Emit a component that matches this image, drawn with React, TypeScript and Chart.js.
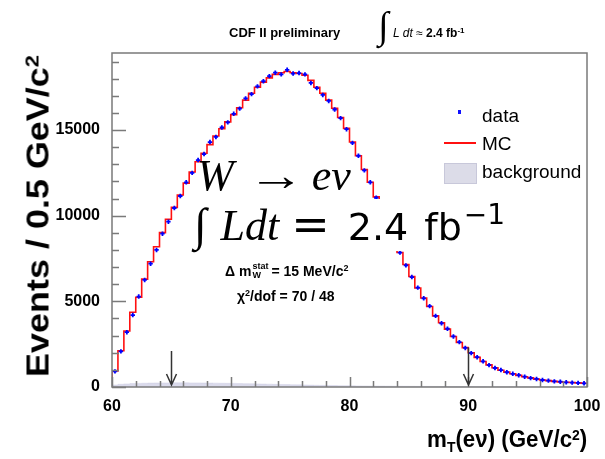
import React, { useEffect, useRef } from "react";
import { Chart, registerables } from "chart.js";

Chart.register(...registerables);

// ---- data (events per 0.5 GeV bin, 60..100 GeV) ----
const binStart = 60;
const binWidth = 0.5;

const mcValues = [
  930, 2120, 3270, 4360, 5240, 6300, 7310, 8190, 9010, 9790,
  10490, 11210, 11900, 12550, 13150, 13650, 14150, 14650, 15080, 15480,
  15900, 16300, 16750, 17150, 17500, 17800, 18050, 18250, 18350, 18420,
  18350, 18300, 18200, 17900, 17500, 17150, 16750, 16270, 15730, 15100,
  14300, 13500, 12700, 11950, 11100, 10250, 9450, 8650, 7850, 7150,
  6450, 5780, 5200, 4700, 4150, 3750, 3380, 2950, 2600, 2300,
  2000, 1730, 1490, 1290, 1120, 980, 870, 770, 680, 600,
  530, 460, 410, 370, 330, 300, 280, 260, 240, 220,
];

const dataValues = [
  910, 2080, 3200, 4200, 5280, 6250, 7200, 8000, 8950, 9650,
  10450, 11150, 11950, 12500, 13250, 13600, 14300, 14600, 15150, 15450,
  15950, 16250, 16850, 17100, 17550, 17850, 18150, 18350, 18250, 18520,
  18300, 18330, 18250, 17750, 17450, 17050, 16700, 16200, 15700, 15050,
  14250, 13500, 12650, 11950, 11050, 10300, 9400, 8700, 7850, 7100,
  6420, 5800, 5180, 4720, 4150, 3720, 3400, 2950, 2620, 2280,
  1980, 1740, 1500, 1280, 1110, 990, 860, 770, 690, 600,
  520, 470, 410, 370, 330, 310, 275, 255, 240, 215,
];

const backgroundValues = [
  120, 160, 180, 200, 210, 220, 230, 235, 240, 240,
  245, 245, 245, 240, 240, 235, 230, 225, 220, 215,
  210, 200, 195, 190, 180, 170, 165, 155, 150, 140,
  130, 125, 115, 110, 100, 95, 90, 85, 80, 75,
  70, 65, 60, 58, 55, 52, 50, 48, 45, 42,
  40, 38, 36, 34, 32, 30, 28, 27, 26, 25,
  24, 23, 22, 21, 20, 19, 18, 17, 16, 15,
  14, 13, 12, 12, 11, 11, 10, 10, 9, 9,
];

const xTickValues = [60, 70, 80, 90, 100];
const yTickValues = [0, 5000, 10000, 15000];
const xMinorStep = 2;
const xMajorStep = 10;
const yMinorStep = 1000;
const yMajorStep = 5000;
const xMin = 60;
const xMax = 100;
const yMin = 0;
const yMax = 19500;

const arrowPositions = [65, 90];
const arrowTops = [2100, 2300];

const SANS = "'Liberation Sans', Arial, Helvetica, sans-serif";
const SERIF = "'Liberation Serif', 'Times New Roman', serif";
const DJ = "'DejaVu Sans', sans-serif";

function stepPoints(values: number[]) {
  const pts: { x: number; y: number }[] = [{ x: binStart, y: 0 }];
  values.forEach((v, i) => pts.push({ x: binStart + i * binWidth, y: v }));
  pts.push({ x: binStart + values.length * binWidth, y: values[values.length - 1] });
  return pts;
}

function centerPoints(values: number[]) {
  return values.map((v, i) => ({ x: binStart + (i + 0.5) * binWidth, y: v }));
}

const framePlugin = {
  id: "frameTicks",
  afterDatasetsDraw(chart: any) {
    const { ctx, chartArea: a, scales } = chart;
    const x = scales.x;
    const y = scales.y;
    ctx.save();
    ctx.strokeStyle = "#7a7a7a";
    ctx.lineWidth = 1.5;
    ctx.strokeRect(a.left, a.top, a.right - a.left, a.bottom - a.top);
    ctx.beginPath();
    for (let v = yMin; v <= yMax; v += yMinorStep) {
      const py = Math.round(y.getPixelForValue(v)) + 0.5;
      const len = v % yMajorStep === 0 ? 14 : 7;
      ctx.moveTo(a.left, py);
      ctx.lineTo(a.left + len, py);
    }
    for (let v = xMin; v <= xMax; v += xMinorStep) {
      const px = Math.round(x.getPixelForValue(v)) + 0.5;
      const len = v % xMajorStep === 0 ? 10 : 6;
      ctx.moveTo(px, a.bottom);
      ctx.lineTo(px, a.bottom - len);
    }
    ctx.stroke();
    // arrows
    ctx.strokeStyle = "#333";
    ctx.lineWidth = 1.5;
    arrowPositions.forEach((xv, i) => {
      const px = Math.round(x.getPixelForValue(xv)) + 0.5;
      const top = y.getPixelForValue(arrowTops[i]);
      const bot = y.getPixelForValue(0) - 2;
      ctx.beginPath();
      ctx.moveTo(px, top);
      ctx.lineTo(px, bot);
      ctx.moveTo(px - 5, bot - 11);
      ctx.lineTo(px, bot);
      ctx.lineTo(px + 5, bot - 11);
      ctx.stroke();
    });
    ctx.restore();
  },
};

export default function App() {
  const ref = useRef<HTMLCanvasElement>(null);
  useEffect(() => {
    document.body.style.margin = "0";
    const tickFont = { family: SANS, size: 16, weight: "bold" as const };
    const chart = new Chart(ref.current!, {
      type: "line",
      data: {
        datasets: [
          {
            label: "data",
            data: centerPoints(dataValues),
            showLine: false,
            pointStyle: "cross",
            pointRadius: 2.2,
            pointBorderWidth: 1.8,
            pointBorderColor: "#0000ff",
            pointBackgroundColor: "#0000ff",
            borderColor: "#0000ff",
          } as any,
          {
            label: "MC",
            data: stepPoints(mcValues),
            stepped: "before",
            borderColor: "#ff1010",
            borderWidth: 1.6,
            pointRadius: 0,
            fill: false,
          } as any,
          {
            label: "background",
            data: stepPoints(backgroundValues),
            stepped: "before",
            borderColor: "rgba(200,200,225,0.8)",
            borderWidth: 0.5,
            backgroundColor: "rgba(205,205,228,0.75)",
            pointRadius: 0,
            fill: "origin",
          } as any,
        ],
      },
      options: {
        animation: false,
        responsive: false,
        maintainAspectRatio: false,
        layout: { padding: { top: 53, right: 18, left: 0, bottom: 0 } },
        plugins: {
          legend: { display: false },
          tooltip: { enabled: false },
          title: { display: false },
        },
        scales: {
          x: {
            type: "linear",
            min: xMin,
            max: xMax,
            afterBuildTicks: (s: any) => {
              s.ticks = xTickValues.map((v) => ({ value: v }));
            },
            afterFit: (s: any) => {
              s.height = 72;
            },
            ticks: {
              font: tickFont,
              color: "#000",
              padding: 2,
              maxRotation: 0,
              autoSkip: false,
              callback: (v: any) => String(v),
            },
            grid: { display: false },
            border: { display: false },
          },
          y: {
            type: "linear",
            min: yMin,
            max: yMax,
            afterBuildTicks: (s: any) => {
              s.ticks = yTickValues.map((v) => ({ value: v }));
            },
            afterFit: (s: any) => {
              s.width = 112;
            },
            ticks: {
              font: tickFont,
              color: "#000",
              padding: 4,
              autoSkip: false,
              callback: (v: any) => String(v),
            },
            grid: { display: false },
            border: { display: false },
          },
        },
      } as any,
      plugins: [framePlugin],
    });
    return () => chart.destroy();
  }, []);

  const abs = (o: any) => ({ position: "absolute" as const, whiteSpace: "nowrap" as const, lineHeight: 1, ...o });

  return (
    <div style={{ position: "relative", width: 605, height: 459, background: "#fff", overflow: "hidden", fontFamily: SANS }}>
      <canvas ref={ref} width={605} height={459} style={{ position: "absolute", left: 0, top: 0 }} />

      {/* header */}
      <div style={abs({ left: 229, top: 26, fontSize: 13, fontWeight: "bold" })}>CDF II preliminary</div>
      <div style={abs({ left: 378, top: 6, fontSize: 38, fontFamily: SERIF })}>∫</div>
      <div style={abs({ left: 393, top: 27, fontSize: 12 })}>
        <span style={{ fontStyle: "italic" }}>L dt</span> ≈ <b>2.4 fb<sup style={{ fontSize: 8, verticalAlign: "top" }}>-1</sup></b>
      </div>

      {/* y axis title */}
      <div
        style={abs({
          left: 38,
          top: 216,
          fontSize: 31,
          fontWeight: "bold",
          transform: "translate(-50%, -50%) rotate(-90deg) scaleX(1.16)",
        })}
      >
        Events / 0.5 GeV/c<sup style={{ fontSize: 19, verticalAlign: "top" }}>2</sup>
      </div>

      {/* x axis title */}
      <div style={abs({ right: 18, top: 427, fontSize: 24, fontWeight: "bold", transform: "scaleX(0.93)", transformOrigin: "right center" })}>
        m<sub style={{ fontSize: 15, verticalAlign: "-5px" }}>T</sub>(eν) (GeV/c<sup style={{ fontSize: 15, verticalAlign: "top" }}>2</sup>)
      </div>

      {/* legend */}
      <div style={abs({ left: 458, top: 110, width: 3, height: 4, background: "#1010ff" })} />
      <div style={abs({ left: 482, top: 106, fontSize: 19 })}>data</div>
      <div style={abs({ left: 444, top: 142, width: 32, height: 2, background: "#ff1010" })} />
      <div style={abs({ left: 482, top: 134, fontSize: 19 })}>MC</div>
      <div style={abs({ left: 444, top: 163, width: 31, height: 19, background: "#dcdce8", border: "1px solid #c8c8da" })} />
      <div style={abs({ left: 482, top: 162, fontSize: 19 })}>background</div>

      {/* big annotation */}
      <div style={abs({ left: 197, top: 154, display: "flex", alignItems: "baseline" })}>
        <span style={{ fontFamily: SERIF, fontStyle: "italic", fontSize: 44 }}>W</span>
        <span
          style={{
            fontFamily: SERIF,
            fontSize: 44,
            display: "inline-block",
            transform: "scaleX(1.3)",
            margin: "0 14px 0 20px",
          }}
        >
          →
        </span>
        <span style={{ fontFamily: SERIF, fontStyle: "italic", fontSize: 44 }}>eν</span>
      </div>
      <div style={abs({ left: 192, top: 199, width: 330, height: 52, background: "#fff" })} />
      <div style={abs({ left: 194, top: 201, display: "flex", alignItems: "baseline" })}>
        <span style={{ fontFamily: SERIF, fontSize: 46, marginRight: 14 }}>∫</span>
        <span style={{ fontFamily: SERIF, fontStyle: "italic", fontSize: 44, marginRight: 12 }}>Ldt</span>
        <span style={{ fontFamily: DJ, fontSize: 46, marginRight: 18 }}>=</span>
        <span style={{ fontFamily: DJ, fontSize: 38, marginRight: 16 }}>2.4</span>
        <span style={{ fontFamily: DJ, fontSize: 38 }}>fb</span>
        <span style={{ fontFamily: DJ, fontSize: 28, position: "relative", top: -16, marginLeft: 2 }}>−1</span>
      </div>

      {/* fit info */}
      <div style={abs({ left: 225, top: 262, fontSize: 14, fontWeight: "bold", display: "flex", alignItems: "center" })}>
        <span>Δ m</span>
        <span style={{ display: "inline-flex", flexDirection: "column", fontSize: 9, lineHeight: 1, margin: "0 3px 0 1px" }}>
          <span>stat</span>
          <span>W</span>
        </span>
        <span>= 15 MeV/c<sup style={{ fontSize: 9, verticalAlign: "top" }}>2</sup></span>
      </div>
      <div style={abs({ left: 237, top: 289, fontSize: 14, fontWeight: "bold" })}>
        χ<sup style={{ fontSize: 9, verticalAlign: "top" }}>2</sup>/dof = 70 / 48
      </div>
    </div>
  );
}
